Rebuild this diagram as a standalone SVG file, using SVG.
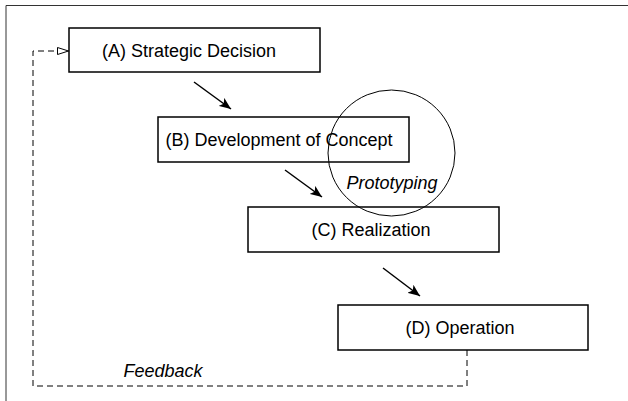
<svg xmlns="http://www.w3.org/2000/svg" width="628" height="401" viewBox="0 0 628 401">
  <style>
    .box { fill: #fff; stroke: #000; stroke-width: 1.5; }
    .lbl { font-family: "Liberation Sans", Arial, sans-serif; font-size: 18px; fill: #000; text-anchor: middle; }
    .it { font-style: italic; }
    .flow { stroke: #000; stroke-width: 1.5; fill: none; marker-end: url(#solid); }
    .dash { stroke: #000; stroke-width: 1; fill: none; stroke-dasharray: 6 4; }
  </style>
  <defs>
    <marker id="solid" viewBox="0 0 12 10" refX="12" refY="5" markerWidth="12" markerHeight="10" markerUnits="userSpaceOnUse" orient="auto">
      <path d="M0,0 L12,5 L0,10 L3,5 z" fill="#000"/>
    </marker>
    <marker id="open" viewBox="0 0 12 8" refX="12" refY="4" markerWidth="12" markerHeight="8" markerUnits="userSpaceOnUse" orient="auto">
      <path d="M0.5,0.5 L11.5,4 L0.5,7.5 z" fill="#fff" stroke="#000" stroke-width="1"/>
    </marker>
  </defs>

  <rect width="628" height="401" fill="#fff"/>
  <!-- outer frame -->
  <path d="M6,401 V5.5 H628" fill="none" stroke="#333" stroke-width="1"/>

  <!-- prototyping zone -->
  <g id="prototyping">
    <text class="lbl it" x="392" y="189">Prototyping</text>
  </g>

  <g id="nodeA">
    <rect class="box" x="69" y="28" width="251" height="44"/>
    <text class="lbl" x="189" y="56.5">(A) Strategic Decision</text>
  </g>
  <g id="nodeB">
    <rect class="box" x="158" y="117" width="251" height="45"/>
    <text class="lbl" x="279" y="146">(B) Development of Concept</text>
  </g>
  <g id="nodeC">
    <rect class="box" x="248" y="207" width="251" height="45"/>
    <text class="lbl" x="371" y="235.5">(C) Realization</text>
  </g>
  <g id="nodeD">
    <rect class="box" x="338" y="305" width="250" height="45"/>
    <text class="lbl" x="460" y="333.5">(D) Operation</text>
  </g>

  <ellipse cx="391.5" cy="153" rx="63.5" ry="63" fill="none" stroke="#000" stroke-width="1"/>

  <g id="connectors">
    <line class="flow" x1="194" y1="82" x2="231" y2="109"/>
    <line class="flow" x1="285" y1="170" x2="322" y2="197"/>
    <line class="flow" x1="383" y1="268" x2="420" y2="296"/>
    <path class="dash" d="M467,350 V386 H33 V51 H69" marker-end="url(#open)"/>
    <text class="lbl it" x="163" y="377">Feedback</text>
  </g>
</svg>
